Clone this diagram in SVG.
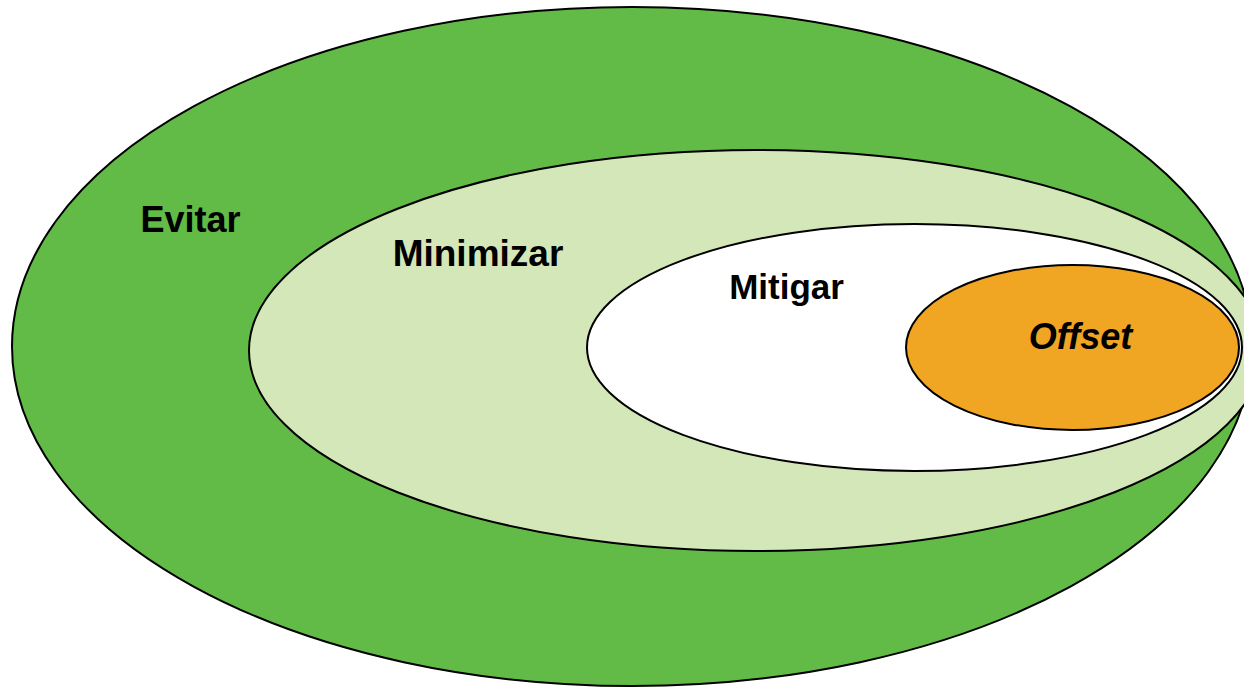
<svg xmlns="http://www.w3.org/2000/svg" width="1244" height="688" viewBox="0 0 1244 688">
<style>
.e{stroke:#000;stroke-width:2}
.t{font-family:"Liberation Sans",Arial,sans-serif;font-weight:bold;font-size:36px;fill:#000;text-anchor:middle}
</style>
<rect width="1244" height="688" fill="#fff"/>
<g id="evitar">
<ellipse class="e" cx="632" cy="346.5" rx="620" ry="339.5" fill="#62BB46"/>
<text class="t" x="190.5" y="232">Evitar</text>
</g>
<g id="minimizar">
<ellipse class="e" cx="756" cy="350.5" rx="507" ry="200.5" fill="#D3E7B9"/>
<text class="t" x="478" y="266" style="font-size:37px">Minimizar</text>
</g>
<g id="mitigar">
<ellipse class="e" cx="914.5" cy="347.5" rx="327.5" ry="123.5" fill="#fff"/>
<text class="t" x="786.5" y="299" style="font-size:35px">Mitigar</text>
</g>
<g id="offset">
<ellipse class="e" cx="1072.5" cy="347.5" rx="166.5" ry="82.5" fill="#F0A523"/>
<text class="t" x="1080.5" y="349" style="font-style:italic">Offset</text>
</g>
</svg>
